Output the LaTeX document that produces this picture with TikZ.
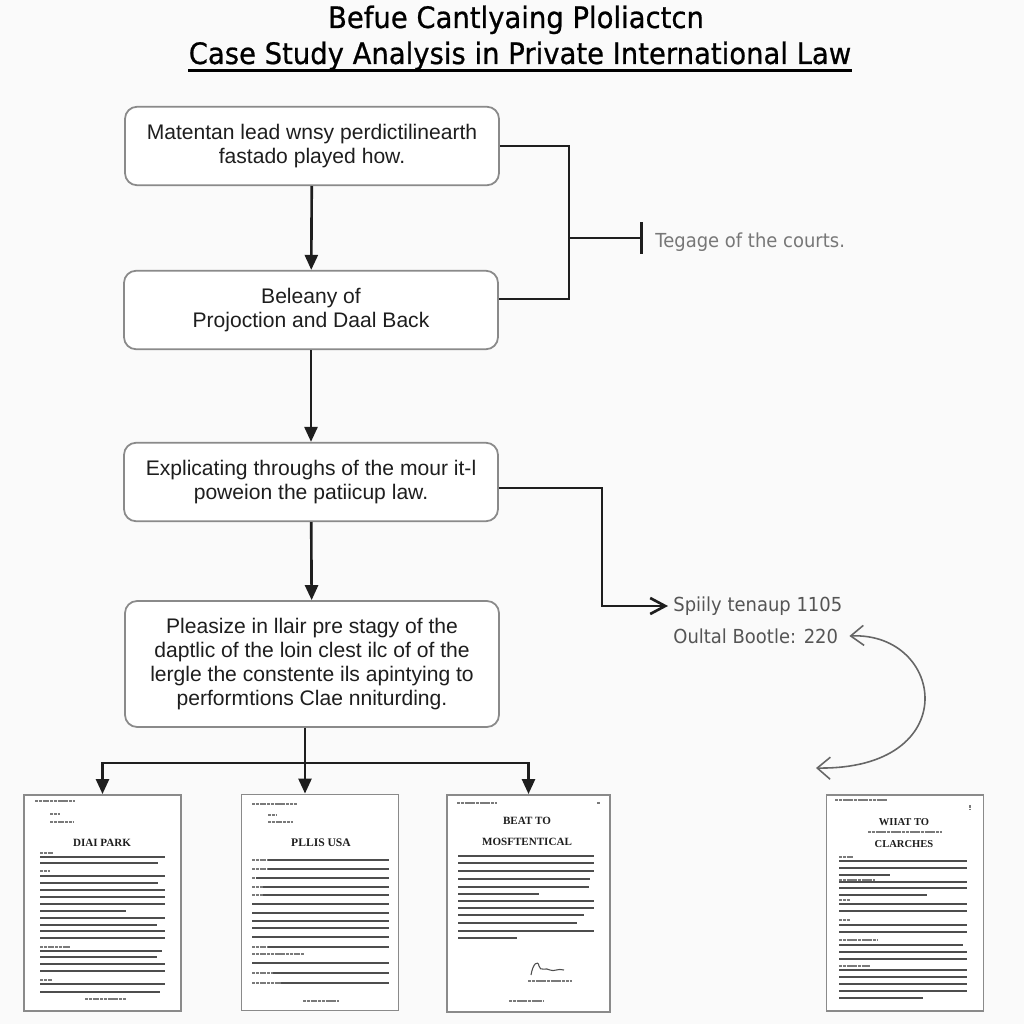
\documentclass[tikz,border=0pt]{standalone}
\usepackage{fontspec}
\setmainfont{Liberation Sans}
\newfontfamily\narrowsans[FakeStretch=0.93]{DejaVu Sans}
\newfontfamily\headsans[FakeStretch=0.93,FakeBold=0.7]{DejaVu Sans}
\newfontfamily\pagefont{Liberation Serif}
\usetikzlibrary{arrows.meta,calc}

\definecolor{paper}{HTML}{FAFAFA}
\definecolor{rim}{HTML}{8A8A8A}
\definecolor{ink}{HTML}{1E1E1E}
\definecolor{note}{HTML}{555555}
\definecolor{pencil}{HTML}{4E4E4E}
\definecolor{smudge}{HTML}{7A7A7A}

\tikzset{
    headline/.style={font=\headsans\fontsize{16.8}{19}\selectfont,text=black,inner sep=0pt},
    stepbox/.style={draw=rim,line width=1pt,rounded corners=0.24cm,fill=white,align=center,text=ink,
        font=\fontsize{12}{13.7}\selectfont,minimum width=7.48cm,minimum height=1.57cm,inner sep=0pt},
    wire/.style={draw=ink,line width=1.5pt},
    arrow/.style={wire,-{Triangle[length=0.3cm,width=0.26cm]}},
    notetext/.style={font=\narrowsans\fontsize{11}{13}\selectfont,text=note,anchor=west,inner xsep=0.1cm},
    sheet/.style={draw=rim,line width=1.1pt,fill=white,minimum width=3.14cm,minimum height=4.32cm,inner sep=0pt},
    sheettitle/.style={font=\pagefont\bfseries\fontsize{6.3}{7}\selectfont,text=ink,inner sep=0pt},
    rule/.style={draw=pencil,line width=0.9pt},
    scrib/.style={draw=smudge,line width=1pt,dash pattern=on 1.8pt off 0.35pt},
}

\begin{document}
\begin{tikzpicture}[x=0.02cm,y=-0.02cm]
    \fill[paper] (0,0) rectangle (1024,1024);
    \useasboundingbox (0,0) rectangle (1024,1024);

    \node[headline,anchor=base] (kicker) at (516,28) {Befue Cantlyaing Ploliactcn};
    \node[headline,anchor=base] (heading) at (520,64) {Case Study Analysis in Private International Law};
    \draw[line width=1.3pt] ($(heading.base west)+(0,6.5)$) -- ($(heading.base east)+(0,6.5)$);

    \node[stepbox] (matentan) at (312,146) {Matentan lead wnsy perdictilinearth\\fastado played how.};
    \node[stepbox] (beleany) at (311,310) {Beleany of\\Projoction and Daal Back};
    \node[stepbox] (explicating) at (311,482) {Explicating throughs of the mour it-l\\poweion the patiicup law.};
    \node[stepbox,minimum height=2.52cm] (pleasize) at (312,664) {Pleasize in llair pre stagy of the\\daptlic of the loin clest ilc of of the\\lergle the constente ils apintying to\\performtions Clae nniturding.};

    \node[notetext,inner xsep=0.24cm,text=note!80] (tegage) at (643,242) {Tegage of the courts.};
    \node[notetext] (spiily) at (668,606) {Spiily tenaup 1105};
    \node[notetext] (oultal) at (668,636) {Oultal Bootle: 220};

    \draw[arrow] (matentan) -- (beleany);
    \draw[arrow] (beleany) -- (explicating);
    \draw[arrow] (explicating) -- (pleasize);

    \coordinate (fork) at (569,238);
    \draw[wire] (matentan.east) -| (fork) |- ($(beleany.east)+(0,-11)$);
    \draw[wire,-{Bar[width=0.64cm]}] (fork) -- (tegage.west |- fork);
    \draw[wire,-{Straight Barb[length=0.3cm,width=0.32cm]}] ($(explicating.east)+(0,6)$) -- ++(103,0) |- (spiily.west);

    \coordinate (loopend) at (816,768);
    \draw[draw=note!90,line width=0.9pt,{Straight Barb[length=0.26cm,width=0.4cm]}-{Straight Barb[length=0.26cm,width=0.44cm]}]
        ([xshift=0.12cm]oultal.east) .. controls (945,632) and (965,770) .. (loopend);

    \node[sheet] (diai) at (102.5,903) {};
    \node[sheet] (pllis) at (320,902.5) {};
    \node[sheet,minimum width=3.26cm,minimum height=4.34cm] (beat) at (528.5,903.5) {};
    \node[sheet] (wiiat) at (905,903) {};

    \coordinate (split) at (305,763);
    \draw[wire] (split |- pleasize.south) -- (split);
    \draw[arrow] (split) -| (diai.north);
    \draw[arrow] (split) -- (split |- pllis.north);
    \draw[arrow] (split) -| (beat.north);

    \node[sheettitle] (diaititle) at (102,843) {DIAI PARK};
    \draw[scrib] (35,801) -- (75,801);
    \draw[scrib] (50,814) -- (60,814);
    \draw[scrib] (50,822) -- (73,822);
    \foreach \y/\e in {853/53,871/50,947/70,980/52}
        \draw[scrib,line width=0.8pt] (40,\y) -- (\e,\y);
    \foreach \y/\e in {857/165,863/158,876/165,883/158,890/165,897/165,904/165,911/126,918/165,925/157,931/165,938/165,951/162,957/157,964/165,971/165,984/165,992/160}
        \draw[rule] (40,\y) -- (\e,\y);
    \draw[scrib] (85,999) -- (126,999);

    \node[sheettitle,font=\pagefont\bfseries\fontsize{6.6}{7}\selectfont] (pllistitle) at (321,843) {PLLIS USA};
    \draw[scrib] (252,804) -- (297,804);
    \draw[scrib] (268,815) -- (276,815);
    \draw[scrib] (268,822) -- (293,822);
    \foreach \y/\s in {860/268,869/268,878/256,887/263,895/263,947/268,973/273,983/281} {
        \draw[scrib,line width=0.8pt] (252,\y) -- (\s,\y);
        \draw[rule] (\s,\y) -- (389,\y);
    }
    \foreach \y in {904,913,921,928,937,963}
        \draw[rule] (252,\y) -- (389,\y);
    \draw[scrib,line width=0.8pt] (252,954) -- (304,954);
    \draw[scrib] (303,1001) -- (339,1001);

    \node[sheettitle] (beattitle) at (527,821) {BEAT TO};
    \node[sheettitle] (mosftitle) at (527,842) {MOSFTENTICAL};
    \draw[scrib] (457,803) -- (497,803);
    \draw[scrib] (597,803) -- (600,803);
    \foreach \y/\e in {856/594,863/594,871/594,879/590,887/589,894/539,901/594,908/594,915/584,923/577,931/594,938/517}
        \draw[rule] (458,\y) -- (\e,\y);
    \draw[pencil,line width=0.6pt] (531,975) .. controls (533,963) and (538,960) .. (539,966)
        .. controls (540,972) and (546,967) .. (550,970) .. controls (554,972) and (558,968) .. (564,970);
    \draw[scrib] (528,981) -- (572,981);
    \draw[scrib] (509,1001) -- (544,1001);

    \node[sheettitle,font=\pagefont\bfseries\fontsize{6}{7}\selectfont] (wiiattitle) at (904,822) {WIIAT TO};
    \node[sheettitle,font=\pagefont\bfseries\fontsize{6}{7}\selectfont] (clarchestitle) at (904,844) {CLARCHES};
    \draw[scrib] (835,800) -- (887,800);
    \draw[scrib] (970,805) -- (970,809);
    \draw[scrib,line width=0.8pt] (868,832) -- (942,832);
    \foreach \y/\e in {857/853,880/875,900/850,920/850,940/877,966/870}
        \draw[scrib,line width=0.8pt] (839,\y) -- (\e,\y);
    \foreach \y/\e in {861/967,868/967,875/890,882/967,888/967,895/927,904/967,911/967,925/967,932/967,945/963,952/967,959/967,970/967,977/967,984/967,991/967,998/923}
        \draw[rule] (839,\y) -- (\e,\y);
\end{tikzpicture}
\end{document}
